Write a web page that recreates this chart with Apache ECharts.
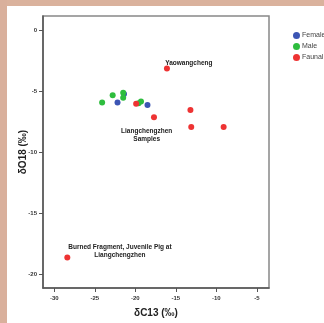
<!DOCTYPE html>
<html>
<head>
<meta charset="utf-8">
<style>
  html, body { margin: 0; padding: 0; background: #fff; }
  #chart { width: 324px; height: 323px; }
</style>
<script src="https://cdn.jsdelivr.net/npm/echarts@6/dist/echarts.min.js"></script>
</head>
<body>
<div id="chart"></div>
<script>
// δC13 / δO18 values
var femaleData = [[-21.4, -5.2], [-22.2, -5.9], [-18.5, -6.1]];
var maleData = [[-24.1, -5.9], [-22.8, -5.3], [-21.5, -5.1], [-21.5, -5.5], [-19.3, -5.8], [-19.6, -5.95]];
var faunalData = [[-16.1, -3.1], [-19.9, -6.0], [-17.7, -7.1], [-13.2, -6.5], [-13.1, -7.9], [-9.1, -7.9], [-28.4, -18.6]];

var xTicks = [-30, -25, -20, -15, -10, -5];
var yTicks = [-20, -15, -10, -5, 0];

var noteText = ['Yaowangcheng', 'Liangchengzhen\nSamples', 'Burned Fragment, Juvenile Pig at\nLiangchengzhen'];
var notePos = [[-13.4, -2.65], [-18.6, -8.6], [-21.9, -18.05]];

var myChart = echarts.init(document.getElementById('chart'));

var tickFont = {
    color: '#333',
    fontSize: 6,
    fontWeight: 'bold',
    fontFamily: '"Liberation Sans Narrow", "Liberation Sans", Arial, sans-serif'
};

var option = {
    animation: false,
    graphic: [
        { type: 'rect', left: 0, top: 0, shape: { width: 324, height: 6 }, style: { fill: '#dab29d' }, z: 100 },
        { type: 'rect', left: 0, top: 0, shape: { width: 7, height: 323 }, style: { fill: '#d9b09c' }, z: 100 }
    ],
    legend: {
        orient: 'vertical',
        left: 293,
        top: 32,
        padding: 0,
        itemWidth: 7,
        itemHeight: 7,
        itemGap: 4,
        icon: 'circle',
        textStyle: { color: '#444', fontSize: 7, fontFamily: 'Arial, "Liberation Sans", sans-serif', padding: [0, 0, 0, -3], overflow: 'none' },
        data: ['Female', 'Male', 'Faunal']
    },
    grid: {
        left: 43,
        right: 55,
        top: 16,
        bottom: 35,
        outerBoundsMode: 'none',
        show: true,
        borderColor: '#888',
        borderWidth: 1.5
    },
    xAxis: {
        type: 'value',
        min: -31.4,
        max: -3.5,
        name: 'δC13 (‰)',
        nameLocation: 'middle',
        nameGap: 20,
        nameMoveOverlap: false,
        nameTextStyle: { color: '#222', fontSize: 10, fontWeight: 'bold', fontFamily: 'Arial, "Liberation Sans", sans-serif' },
        axisLine: { show: true, onZero: false, lineStyle: { color: '#555', width: 1.5 } },
        axisTick: { show: true, length: 4, lineStyle: { color: '#555' }, customValues: xTicks },
        axisLabel: Object.assign({ margin: 7, customValues: xTicks }, tickFont),
        splitLine: { show: false }
    },
    yAxis: {
        type: 'value',
        min: -21.1,
        max: 1.2,
        name: 'δO18 (‰)',
        nameLocation: 'middle',
        nameGap: 15,
        nameMoveOverlap: false,
        nameTextStyle: { color: '#222', fontSize: 10, fontWeight: 'bold', fontFamily: 'Arial, "Liberation Sans", sans-serif' },
        axisLine: { show: true, onZero: false, lineStyle: { color: '#555', width: 1.5 } },
        axisTick: { show: true, length: 4, lineStyle: { color: '#555' }, customValues: yTicks },
        axisLabel: Object.assign({ margin: 6, customValues: yTicks }, tickFont),
        splitLine: { show: false }
    },
    series: [
        {
            name: 'Female',
            type: 'scatter',
            symbolSize: 6,
            itemStyle: { color: '#3c55b4', opacity: 1 },
            data: femaleData
        },
        {
            name: 'Male',
            type: 'scatter',
            symbolSize: 6,
            itemStyle: { color: '#2ebd3e', opacity: 1 },
            data: maleData
        },
        {
            name: 'Faunal',
            type: 'scatter',
            symbolSize: 6,
            itemStyle: { color: '#ee3333', opacity: 1 },
            data: faunalData,
            markPoint: {
                symbol: 'circle',
                symbolSize: 0,
                silent: true,
                label: {
                    show: true,
                    position: 'inside',
                    color: '#222',
                    fontSize: 6.5,
                    lineHeight: 8,
                    fontWeight: 'bold',
                    fontFamily: '"Liberation Sans Narrow", "Liberation Sans", Arial, sans-serif',
                    align: 'center',
                    formatter: function (p) { return p.name; }
                },
                data: noteText.map(function (t, i) {
                    return { name: t, coord: notePos[i] };
                })
            }
        }
    ]
};

myChart.setOption(option);
window.addEventListener("resize", function () {
    myChart.resize();
});
</script>
</body>
</html>
